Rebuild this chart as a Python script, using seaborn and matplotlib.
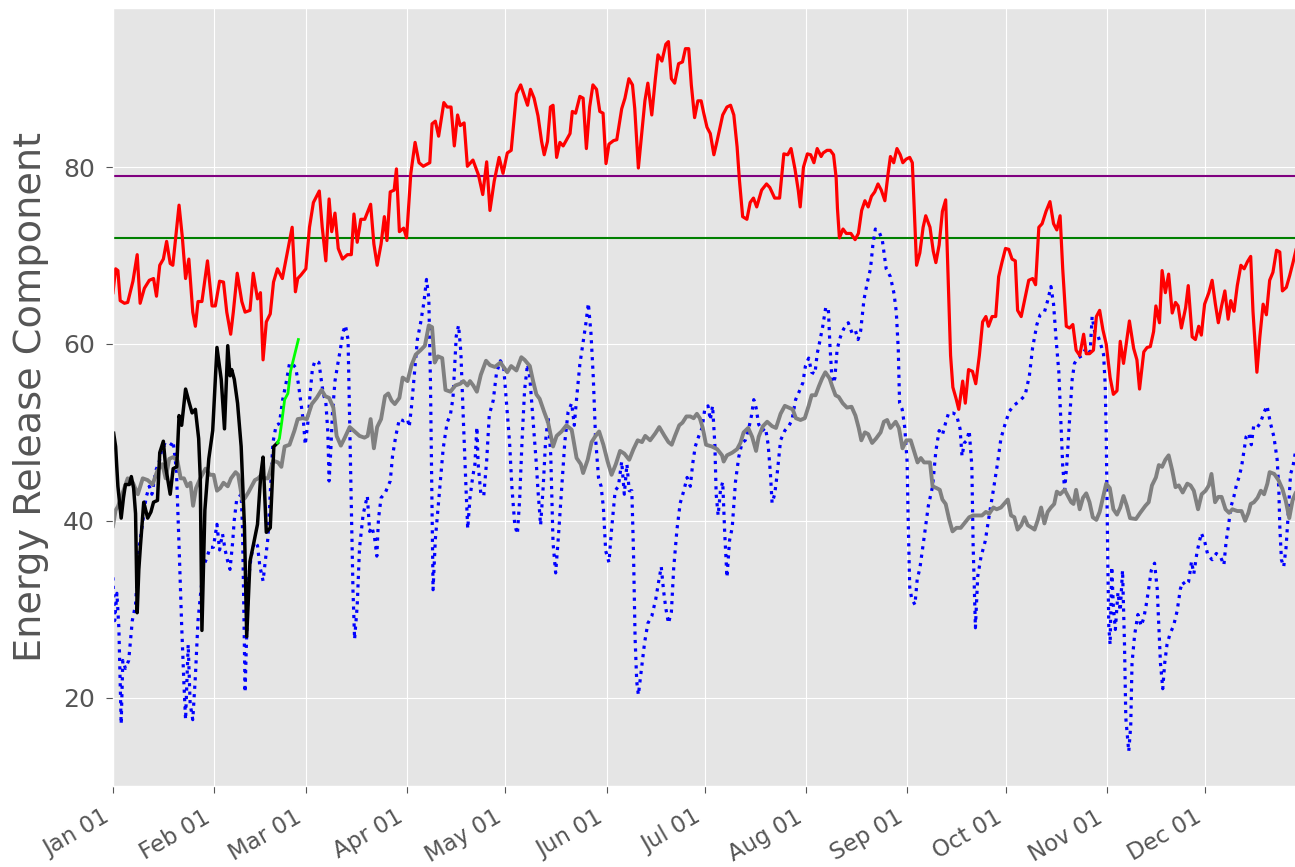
import numpy as np
import pandas as pd
import matplotlib
matplotlib.use('Agg')
import matplotlib.pyplot as plt
import matplotlib.dates as mdates
import seaborn as sns

plt.style.use('ggplot')

year_start = pd.Timestamp('2023-01-01')

# thresholds
purple_level = 79
green_level = 72

# historical max (red), day of year offset + ERC value
max_day = [0, 0.8, 1.5, 2.2, 3.5, 4.5, 6.1, 7.4, 8.3, 9.6, 11.1, 12.4, 13.3, 14.3, 15.4, 16.4, 17.5, 18.3, 20.2, 21.2,
           22.2, 23.2, 24.4, 25.2, 26.0, 27.2, 28.9, 30.3, 31.3, 32.6, 33.8, 34.8, 36.0, 36.8, 38.0, 39.4, 40.4, 41.9,
           42.9, 44.2, 45.1, 45.9, 46.9, 48.1, 49.1, 50.3, 51.8, 53.5, 54.8, 55.8, 56.5, 57.5, 59, 60.1, 61.3, 63.1,
           64.0, 65.1, 66.1, 66.9, 67.9, 68.9, 70.2, 71.7, 72.9, 73.7, 74.7, 75.8, 77.0, 78.8, 79.8, 80.8, 82.0, 83.0,
           83.8, 84.8, 86.0, 86.7, 87.6, 88.9, 89.8, 91.1, 92.4, 93.6, 94.9, 96.9, 97.6, 98.6, 99.6, 101.2, 102.2,
           103.4, 104.4, 105.4, 106.2, 107.4, 108.4, 110.1, 111.8, 113.1, 114.3, 115.3, 116.6, 118.1, 119.3, 120.6,
           121.8, 123.4, 124.7, 126.8, 127.7, 128.8, 130.0, 131.1, 131.9, 132.9, 133.8, 134.6, 135.7, 136.7, 137.7,
           139.8, 140.5, 141.5, 142.8, 143.8, 144.8, 145.8, 146.8, 147.9, 148.9, 149.9, 150.8, 151.7, 153.1, 154.1,
           155.6, 156.6, 157.8, 158.9, 159.6, 160.7, 161.6, 162.7, 163.6, 164.8, 165.9, 166.7, 167.9, 169.1, 169.9,
           170.8, 171.8, 173.0, 174.2, 175.1, 176.1, 176.9, 177.9, 178.9, 179.9, 180.7, 181.7, 182.7, 183.8, 184.8,
           186.5, 187.8, 188.9, 189.9, 190.9, 191.6, 192.6, 193.9, 194.9, 195.9, 196.9, 198.4, 199.9, 200.9, 202.4,
           203.9, 205.2, 206.4, 207.4, 208.6, 209.6, 210.2, 211.2, 212.4, 213.4, 214.4, 215.4, 216.6, 217.2, 218.4,
           219.4, 220.4, 221.2, 221.6, 222.2, 223.3, 224.3, 225.7, 227.0, 228.0, 229.0, 230.0, 231.0, 232.0, 233.0,
           234.0, 235.0, 236.1, 237.1, 237.8, 238.8, 239.8, 240.8, 241.6, 242.6, 243.7, 244.5, 245.8, 246.8, 247.8,
           248.6, 249.9, 250.9, 251.7, 252.7, 253.7, 254.7, 255.5, 256.2, 256.9, 257.9, 258.7, 259.9, 260.7, 261.7,
           262.9, 263.9, 265.0, 266.0, 267.0, 267.8, 268.9, 270.0, 270.9, 271.9, 273.0, 274.0, 275.0, 276.0, 276.7,
           277.8, 278.8, 280.1, 281.3, 282.2, 283.2, 284.2, 285.4, 286.6, 287.7, 288.7, 289.7, 290.5, 291.6, 292.6,
           293.6, 294.6, 295.7, 296.9, 297.7, 298.7, 299.9, 300.8, 301.8, 302.8, 303.8, 305.0, 306.0, 307.1, 308.1,
           309.1, 310.9, 312.2, 313.2, 314.0, 315.3, 316.3, 317.3, 318.3, 319.0, 320.1, 320.9, 321.9, 322.9, 324.0,
           325.0, 325.8, 326.8, 328.1, 328.9, 330.1, 331.1, 332.1, 332.9, 333.9, 335.2, 336.2, 337.2, 338.1, 339.1,
           340.1, 341.1, 341.9, 342.9, 343.9, 345.0, 346.0, 347.0, 348.0, 348.7, 349.9, 350.8, 351.8, 352.8, 353.8,
           354.8, 355.9, 356.9, 357.7, 358.9, 359.9, 361.0, 361.8, 363.0]
max_erc = [65.8, 68.5, 68.3, 64.9, 64.6, 64.7, 67.1, 70.1, 64.6, 66.3, 67.2, 67.4, 65.4, 68.9, 69.6, 71.6, 69.1, 68.9,
           75.7, 72.1, 67.4, 69.6, 63.6, 62.0, 64.8, 64.8, 69.4, 64.3, 64.3, 67.1, 67.0, 63.6, 61.1, 63.6, 68.0, 64.8,
           63.6, 63.8, 68.0, 65.1, 65.8, 58.2, 62.5, 63.4, 67.0, 68.5, 67.4, 70.7, 73.2, 65.9, 67.4, 67.8, 68.5, 73.2,
           76.0, 77.3, 73.2, 69.4, 76.4, 72.7, 74.8, 70.8, 69.6, 70.1, 70.1, 74.7, 71.5, 74.1, 74.1, 75.8, 71.3, 68.9,
           71.3, 74.4, 71.7, 77.2, 77.4, 79.8, 72.7, 73.1, 72.0, 79.3, 82.8, 80.5, 80.1, 80.5, 84.9, 85.2, 83.5, 87.3,
           86.8, 86.8, 82.4, 85.9, 84.7, 85.0, 80.1, 80.8, 79.1, 76.9, 80.6, 75.1, 78.4, 81.1, 79.3, 81.6, 81.9, 88.3,
           89.3, 87.0, 88.8, 87.8, 85.8, 82.9, 81.4, 82.9, 86.8, 87.0, 81.1, 82.8, 82.4, 83.8, 86.3, 86.1, 88.0, 87.8,
           82.1, 86.8, 89.3, 88.8, 86.3, 86.1, 80.4, 82.6, 83.0, 83.1, 86.6, 87.8, 90.0, 89.3, 86.6, 79.9, 83.3, 87.5,
           89.5, 85.9, 90.0, 92.7, 92.0, 93.9, 94.2, 90.0, 89.5, 91.7, 91.9, 93.4, 93.4, 89.3, 85.6, 87.5, 87.5, 86.1,
           84.5, 83.8, 81.4, 83.0, 85.9, 86.8, 87.0, 85.9, 82.3, 78.6, 74.4, 74.1, 76.0, 76.5, 75.5, 77.4, 78.1, 77.7,
           76.5, 76.5, 81.5, 81.4, 82.1, 79.8, 77.4, 75.5, 80.0, 81.5, 81.4, 80.5, 82.1, 81.2, 81.6, 81.9, 81.9, 81.4,
           78.8, 75.3, 72.0, 73.0, 72.5, 72.5, 71.8, 72.5, 75.1, 76.2, 75.5, 76.7, 77.2, 78.1, 77.4, 76.2, 79.3, 81.2,
           80.5, 82.1, 81.4, 80.5, 80.9, 81.1, 80.5, 68.9, 70.3, 73.2, 74.5, 73.2, 70.5, 69.2, 71.2, 75.0, 76.3, 66.7,
           58.7, 55.1, 53.8, 52.6, 55.8, 53.3, 57.1, 56.9, 55.5, 58.7, 62.5, 63.1, 62.0, 63.1, 63.1, 67.6, 69.2, 70.8,
           70.7, 69.6, 69.4, 63.8, 63.1, 64.9, 67.2, 67.4, 66.7, 73.2, 73.6, 75.0, 76.1, 73.6, 72.9, 74.5, 68.5, 62.0,
           61.8, 62.2, 59.3, 58.7, 61.1, 58.9, 58.9, 59.3, 63.1, 63.8, 61.6, 60.0, 56.2, 54.3, 54.7, 60.3, 57.8, 62.6,
           59.5, 58.2, 54.9, 59.1, 59.6, 59.7, 61.4, 64.3, 62.4, 68.3, 65.8, 67.9, 63.5, 64.7, 64.3, 61.8, 64.1, 66.6,
           60.8, 60.5, 62.0, 61.0, 64.5, 65.8, 67.2, 64.5, 62.4, 64.3, 66.0, 62.8, 64.9, 63.7, 66.6, 68.9, 68.5, 69.3,
           69.9, 63.7, 56.8, 60.8, 64.5, 63.3, 67.2, 68.1, 70.6, 70.4, 66.0, 66.4, 67.7, 69.3, 70.6, 71.5]

# historical average (gray)
avg_day = [0, 0.8, 1.5, 3.0, 4.5, 6.1, 7.6, 9.1, 10.6, 12.1, 13.6, 15.1, 16.1, 17.2, 18.4, 19.7, 20.7, 21.7, 22.7,
           23.7, 24.5, 25.4, 26.7, 28.3, 29.6, 30.8, 31.8, 32.8, 33.8, 35.1, 36.1, 37.5, 38.3, 39.6, 40.4, 41.4, 42.4,
           43.4, 44.4, 45.4, 46.4, 47.4, 49.0, 50.5, 51.5, 52.5, 54.0, 55.5, 56.5, 58.0, 59.3, 60.8, 62.3, 63.8, 64.9,
           66.1, 67.4, 68.4, 69.7, 70.9, 72.4, 73.9, 75.4, 76.9, 77.9, 78.8, 79.8, 80.8, 82.0, 83.2, 84.2, 85.2, 86.2,
           87.6, 88.6, 90.1, 91.3, 92.6, 94.1, 95.4, 96.6, 97.6, 98.4, 99.4, 100.7, 101.7, 103.2, 104.7, 106.2, 107.2,
           108.4, 109.2, 110.2, 111.3, 112.5, 114.1, 115.3, 116.8, 118.5, 120.6, 121.8, 123.4, 124.9, 125.9, 127.5,
           128.5, 129.5, 130.5, 131.9, 133.1, 134.6, 135.7, 137.2, 138.7, 140.3, 141.8, 143.1, 143.8, 145.2, 146.4,
           147.6, 148.7, 150.0, 151.3, 152.5, 153.8, 155.1, 156.4, 157.9, 159.2, 160.5, 161.8, 162.8, 164.3, 165.9,
           167.1, 168.7, 169.9, 170.9, 171.9, 173.2, 174.2, 175.4, 176.6, 177.6, 178.6, 179.5, 180.4, 181.4, 183.2,
           184.8, 186.3, 186.8, 187.8, 189.4, 190.9, 191.9, 192.9, 194.3, 195.5, 196.7, 197.5, 198.8, 200.1, 201.6,
           202.8, 204.2, 205.5, 206.7, 207.9, 208.9, 210.3, 211.6, 212.8, 213.7, 214.9, 215.9, 216.9, 217.9, 219.2,
           220.0, 221.0, 222.0, 223.2, 224.5, 225.9, 227.1, 228.1, 228.9, 230.0, 231.0, 232.2, 233.4, 234.8, 235.8,
           236.8, 237.8, 239.4, 240.4, 241.5, 242.7, 244.0, 245.0, 246.1, 247.1, 248.1, 249.9, 250.7, 251.9, 252.9,
           253.7, 254.7, 255.8, 256.8, 258.0, 259.3, 260.4, 261.9, 263.1, 264.4, 265.8, 267.0, 268.0, 269.3, 270.3,
           271.6, 273.0, 273.7, 274.7, 275.7, 276.7, 277.8, 278.8, 279.8, 281.1, 281.9, 282.9, 283.9, 284.9, 285.9,
           286.9, 287.9, 288.7, 289.7, 291.1, 292.1, 293.1, 293.8, 294.6, 295.7, 296.7, 297.7, 298.7, 299.7, 300.8,
           301.8, 302.8, 303.8, 304.9, 306.0, 307.1, 308.1, 309.1, 310.1, 311.1, 312.9, 314.2, 315.8, 316.8, 317.8,
           319.0, 319.9, 320.9, 321.9, 322.9, 324.0, 325.0, 326.0, 327.2, 328.6, 329.6, 330.6, 331.9, 333.0, 334.2,
           335.2, 336.0, 337.1, 338.1, 339.1, 340.3, 341.4, 342.4, 343.9, 345.2, 346.3, 347.3, 348.0, 349.0, 350.1,
           351.1, 352.1, 353.1, 353.8, 355.2, 356.5, 357.7, 358.7, 359.8, 360.8, 361.8, 363.0]
avg_erc = [39.4, 41.2, 41.6, 43.2, 44.8, 44.3, 43.0, 44.8, 44.6, 44.1, 45.7, 46.4, 44.8, 47.0, 47.2, 46.8, 44.8, 44.8,
           43.9, 44.3, 41.7, 43.7, 44.8, 45.9, 45.2, 45.2, 43.4, 43.7, 44.3, 43.9, 44.8, 45.5, 45.2, 42.3, 42.6, 43.2,
           43.9, 44.6, 44.8, 45.2, 44.8, 44.8, 46.8, 46.6, 46.1, 48.4, 48.6, 50.2, 51.5, 51.6, 51.5, 53.2, 53.9, 54.8,
           54.1, 53.9, 52.8, 49.6, 48.5, 49.4, 50.6, 50.1, 49.6, 49.4, 49.6, 51.5, 48.2, 50.6, 51.5, 54.1, 54.4, 53.6,
           53.2, 53.9, 56.2, 55.8, 57.6, 58.8, 59.3, 59.8, 62.1, 61.9, 57.9, 58.6, 58.4, 54.8, 54.6, 55.3, 55.5, 55.8,
           55.3, 55.8, 55.3, 54.6, 56.5, 58.1, 57.6, 57.4, 57.9, 56.8, 57.5, 57.0, 58.5, 58.2, 57.5, 55.8, 54.3, 53.8,
           52.3, 51.1, 48.4, 49.6, 50.1, 50.8, 50.3, 47.1, 46.4, 45.4, 46.9, 48.9, 49.6, 50.1, 48.6, 46.7, 45.2, 46.4,
           47.9, 47.6, 46.9, 48.1, 49.1, 48.9, 49.6, 49.1, 49.9, 50.6, 49.6, 48.9, 48.6, 49.6, 50.8, 51.1, 51.8, 51.8,
           51.6, 52.1, 51.6, 50.5, 48.6, 48.4, 48.1, 47.4, 46.7, 47.4, 47.7, 48.1, 48.8, 50.0, 50.5, 49.5, 47.9, 49.5,
           50.7, 51.2, 50.7, 50.5, 52.1, 53.0, 52.8, 52.6, 51.6, 51.4, 51.6, 53.0, 54.2, 54.2, 55.2, 56.1, 56.8, 56.1,
           55.2, 54.2, 54.0, 53.3, 52.8, 52.9, 51.9, 50.5, 49.1, 50.0, 49.8, 48.8, 49.3, 50.0, 51.2, 51.4, 50.5, 51.2,
           50.5, 48.2, 49.1, 49.1, 47.9, 46.6, 47.1, 46.6, 46.6, 43.9, 43.7, 43.5, 42.4, 41.9, 40.1, 38.8, 39.2, 39.2,
           39.7, 40.4, 40.6, 40.6, 40.6, 41.0, 40.8, 41.5, 41.3, 41.5, 42.1, 42.4, 40.6, 40.4, 39.0, 39.5, 40.4, 39.5,
           39.2, 39.0, 40.1, 41.5, 39.7, 41.0, 41.5, 41.9, 43.3, 43.0, 43.5, 42.8, 42.1, 41.9, 43.5, 41.3, 42.6, 43.1,
           42.1, 40.4, 40.1, 41.0, 42.6, 44.2, 43.7, 41.3, 40.7, 41.5, 42.8, 41.7, 40.3, 40.2, 40.9, 41.7, 42.1, 44.0,
           44.9, 46.3, 46.1, 46.9, 47.4, 45.7, 43.8, 44.0, 43.2, 44.2, 44.0, 43.4, 41.3, 43.0, 43.4, 44.0, 45.3, 42.1,
           42.7, 42.7, 41.3, 40.9, 41.3, 41.1, 41.1, 40.0, 40.9, 41.9, 42.1, 42.6, 43.4, 43.0, 44.2, 45.5, 45.3, 44.6,
           43.6, 42.3, 40.3, 42.3, 43.2, 43.5]

# historical min (blue dotted)
min_day = [0, 0.5, 1.2, 1.8, 2.5, 3.0, 3.8, 4.8, 5.9, 6.9, 7.9, 9.1, 10.1, 11.1, 11.9, 13.1, 14.1, 15.1, 16.1, 17.4,
           18.4, 19.4, 20.2, 21.0, 21.7, 22.2, 23.0, 23.6, 24.4, 25.2, 26.0, 26.7, 27.7, 28.7, 29.7, 30.7, 31.8, 32.6,
           33.5, 34.3, 35.1, 35.8, 36.6, 37.1, 37.8, 39.2, 39.6, 40.0, 40.4, 40.8, 41.4, 42.2, 43.2, 44.2, 44.9, 45.9,
           46.7, 47.4, 48.2, 48.9, 49.9, 50.9, 51.9, 52.9, 54.0, 54.8, 55.9, 56.7, 57.5, 58.3, 58.8, 59.6, 60.3, 61.0,
           61.8, 63.0, 63.6, 64.3, 65.1, 65.7, 66.1, 66.6, 67.1, 67.9, 68.7, 69.6, 70.4, 71.1, 71.9, 72.4, 72.9, 73.4,
           73.9, 74.7, 75.4, 76.5, 77.8, 78.5, 79.2, 80.0, 80.7, 81.2, 82.0, 83.2, 84.8, 85.5, 86.5, 87.6, 88.9, 90.1,
           90.6, 91.3, 92.1, 93.1, 94.1, 95.1, 95.9, 96.6, 97.1, 97.6, 97.9, 98.6, 99.7, 101.0, 102.2, 103.2, 104.0,
           105.0, 105.7, 106.4, 107.2, 108.0, 108.5, 109.2, 110.0, 110.7, 111.3, 111.7, 112.5, 113.4, 114.3, 115.1,
           116.3, 117.3, 118.5, 119.5, 120.6, 121.3, 122.0, 122.9, 123.7, 124.4, 125.1, 125.9, 126.8, 127.5, 128.5,
           129.5, 130.0, 130.8, 131.6, 132.3, 133.1, 133.9, 134.6, 135.4, 136.2, 137.2, 138.2, 139.2, 140.3, 141.1,
           141.8, 142.8, 143.8, 144.6, 145.4, 146.2, 146.9, 147.6, 148.5, 149.3, 150.0, 150.7, 151.7, 152.5, 153.6,
           154.6, 155.6, 156.4, 157.2, 157.9, 158.7, 159.2, 159.7, 160.2, 160.7, 161.5, 162.6, 163.6, 164.8, 166.0,
           166.9, 167.7, 168.4, 169.1, 169.9, 170.8, 171.5, 172.5, 173.5, 174.6, 175.6, 176.6, 177.3, 178.1, 179.2,
           180.2, 181.0, 182.0, 182.7, 183.4, 184.1, 184.5, 185.1, 185.8, 186.5, 187.1, 187.8, 188.6, 189.4, 190.4,
           191.4, 192.4, 193.4, 194.5, 195.3, 196.0, 196.7, 197.5, 198.6, 199.6, 200.4, 201.1, 201.6, 202.4, 203.1,
           204.2, 205.5, 206.7, 207.7, 208.8, 210.0, 211.0, 211.8, 212.8, 213.7, 214.7, 215.4, 216.2, 217.1, 218.0,
           218.8, 219.3, 220.0, 220.8, 221.5, 222.5, 223.5, 224.9, 226.1, 227.1, 227.9, 228.7, 229.7, 230.7, 231.7,
           232.4, 233.2, 234.3, 235.3, 236.5, 237.8, 238.9, 239.6, 240.2, 240.6, 241.4, 242.2, 242.9, 243.2, 243.7,
           244.3, 245.3, 246.0, 246.8, 248.1, 249.4, 250.7, 251.7, 252.7, 253.7, 254.7, 255.6, 256.8, 258.0, 259.1,
           259.7, 260.4, 261.2, 261.9, 262.7, 263.1, 263.8, 264.5, 265.5, 266.8, 268.1, 269.3, 270.6, 271.6, 273.0,
           274.2, 275.7, 277.2, 279.0, 280.3, 281.3, 282.6, 283.6, 284.9, 285.9, 286.9, 287.7, 288.5, 289.3, 290.0,
           290.5, 291.1, 291.8, 292.6, 293.4, 294.1, 295.1, 296.5, 297.7, 298.9, 299.5, 300.3, 301.3, 302.1, 303.0,
           303.5, 303.8, 304.0, 304.3, 304.6, 305.0, 305.5, 306.0, 306.6, 307.4, 308.1, 308.8, 309.4, 309.8, 310.7,
           311.3, 311.7, 312.5, 313.5, 314.5, 315.3, 316.0, 316.8, 317.6, 318.6, 319.4, 319.9, 320.4, 321.1, 321.7,
           322.4, 323.4, 324.4, 325.5, 326.5, 327.2, 328.0, 329.0, 329.9, 330.6, 331.6, 332.9, 333.9, 334.9, 336.2,
           337.5, 338.8, 339.8, 340.5, 341.2, 341.9, 342.9, 343.6, 344.4, 345.2, 345.9, 346.6, 347.4, 348.2, 348.9,
           349.9, 351.0, 352.0, 353.0, 354.0, 355.1, 356.1, 356.6, 356.9, 357.4, 358.1, 358.8, 359.4, 360.2, 360.9,
           361.8, 363.0]
min_erc = [33.6, 28.7, 31.8, 27.8, 17.0, 24.2, 23.3, 24.2, 28.7, 30.5, 36.7, 39.9, 42.6, 43.9, 43.0, 45.7, 46.6, 48.4,
           48.6, 48.4, 49.0, 45.7, 37.2, 28.2, 21.5, 17.5, 26.0, 19.3, 17.5, 22.4, 28.7, 31.4, 34.9, 35.8, 37.0, 37.0,
           39.6, 36.7, 38.5, 36.7, 35.4, 34.5, 37.6, 40.1, 42.3, 43.0, 39.4, 30.5, 20.6, 26.0, 33.2, 35.8, 37.6, 37.2,
           34.9, 33.2, 35.8, 38.1, 43.9, 48.8, 50.8, 51.0, 53.7, 55.5, 57.8, 57.8, 57.3, 55.5, 53.3, 51.0, 48.6, 51.1,
           54.4, 57.2, 58.1, 57.9, 56.2, 54.4, 53.4, 50.1, 44.5, 47.8, 52.0, 55.8, 57.6, 59.5, 61.4, 62.1, 60.5, 51.1,
           41.6, 32.2, 26.6, 30.4, 36.9, 40.7, 42.8, 38.8, 39.3, 38.1, 36.0, 40.2, 42.6, 43.1, 44.5, 47.3, 49.6, 51.5,
           51.3, 51.5, 50.6, 52.9, 56.2, 60.5, 62.4, 64.7, 67.3, 65.2, 55.8, 41.6, 32.2, 37.9, 42.6, 48.2, 51.1, 52.0,
           53.9, 60.9, 62.1, 59.1, 51.1, 43.5, 39.1, 42.6, 44.9, 46.4, 50.6, 46.4, 43.1, 42.8, 46.8, 52.0, 53.6, 56.7,
           58.1, 57.4, 52.3, 48.9, 43.9, 39.5, 38.5, 42.5, 48.9, 54.8, 57.7, 56.2, 51.3, 46.4, 43.4, 39.5, 43.9, 48.9,
           51.8, 47.4, 37.5, 34.1, 38.0, 43.4, 48.9, 52.3, 53.3, 50.8, 53.8, 57.7, 60.2, 62.2, 64.6, 61.2, 56.3, 49.4,
           44.9, 43.9, 41.5, 36.6, 35.3, 39.0, 43.4, 43.9, 46.7, 43.0, 46.4, 43.4, 43.4, 36.6, 26.7, 21.8, 20.3, 22.8,
           26.2, 28.4, 29.2, 31.1, 33.1, 34.8, 32.1, 30.1, 28.4, 29.7, 34.6, 39.0, 42.0, 43.4, 44.9, 43.9, 46.4, 48.4,
           49.6, 50.5, 52.6, 53.0, 51.4, 53.0, 48.6, 43.0, 40.6, 43.4, 44.4, 38.7, 33.6, 37.8, 39.2, 44.4, 47.2, 48.8,
           49.1, 50.5, 51.9, 53.7, 52.8, 50.9, 50.2, 50.5, 48.6, 45.3, 42.0, 43.0, 45.1, 49.1, 50.2, 50.7, 51.4, 53.7,
           54.7, 55.6, 57.5, 58.4, 56.8, 56.6, 58.9, 60.3, 62.0, 64.1, 64.1, 59.8, 55.6, 56.1, 59.4, 60.8, 61.7, 62.4,
           61.2, 61.5, 60.5, 61.5, 65.0, 66.9, 68.5, 71.1, 73.0, 72.7, 71.8, 68.5, 67.6, 65.7, 63.6, 59.4, 53.3, 52.6,
           50.5, 46.7, 40.6, 32.5, 31.2, 30.5, 33.4, 34.6, 38.1, 41.7, 43.9, 47.9, 50.2, 49.7, 51.1, 52.2, 52.2, 52.0,
           50.4, 47.3, 48.8, 49.1, 50.2, 46.2, 37.2, 27.9, 33.7, 35.9, 37.7, 40.8, 43.5, 46.6, 49.3, 51.1, 52.4, 53.1,
           53.5, 54.2, 56.4, 59.6, 62.2, 63.3, 63.6, 64.9, 66.5, 64.5, 60.4, 56.9, 50.6, 46.2, 43.5, 46.6, 51.5, 56.0,
           57.8, 58.4, 58.7, 59.6, 59.1, 63.1, 61.3, 60.9, 60.0, 58.8, 55.3, 50.0, 43.9, 35.0, 28.0, 26.0, 34.8, 30.2,
           27.7, 31.9, 29.8, 34.4, 26.0, 17.7, 13.9, 16.8, 23.9, 27.1, 29.4, 28.1, 29.0, 30.4, 32.3, 34.4, 35.2, 32.3,
           28.1, 23.9, 21.0, 23.9, 26.0, 27.3, 28.1, 29.8, 32.3, 33.1, 32.7, 33.1, 35.4, 34.0, 36.5, 38.6, 37.7, 36.1,
           35.6, 36.3, 35.9, 35.0, 37.7, 39.4, 41.5, 42.8, 44.0, 44.9, 46.1, 47.8, 49.5, 49.9, 48.6, 50.7, 50.5, 51.1,
           52.2, 53.0, 51.1, 49.5, 46.9, 43.6, 39.4, 35.6, 34.8, 36.9, 40.3, 45.3, 46.1, 48.0, 50.5]

# current year observed (black)
obs_day = [0.2, 0.8, 1.5, 2.5, 3.2, 3.8, 5.0, 5.6, 6.3, 6.9, 7.4, 7.9, 8.4, 9.4, 10.6, 11.6, 12.4, 13.6, 14.3, 15.4,
           16.1, 17.5, 18.4, 19.5, 20.2, 21.0, 22.2, 23.2, 24.2, 25.2, 26.2, 26.7, 27.2, 28.1, 29.3, 30.5, 31.8, 33.1,
           34.1, 35.1, 35.8, 36.3, 37.1, 38.1, 39.2, 40.2, 40.9, 41.9, 42.9, 44.2, 45.2, 45.9, 46.9, 48.1, 49.2, 50.3]
obs_erc = [49.9, 48.4, 43.9, 40.3, 42.6, 44.1, 44.1, 45.0, 43.7, 40.8, 29.6, 34.5, 37.2, 42.1, 40.3, 41.0, 42.1, 42.3,
           47.7, 49.0, 46.1, 43.0, 45.9, 46.1, 51.9, 50.8, 54.9, 53.5, 52.2, 52.6, 49.3, 44.8, 27.6, 41.2, 47.0, 50.2,
           59.6, 56.0, 50.4, 59.8, 56.4, 57.1, 56.0, 53.3, 48.4, 39.4, 26.9, 35.4, 37.2, 39.6, 45.2, 47.2, 38.7, 39.2,
           48.4, 48.8]

# forecast (lime)
fc_day = [50.3, 50.9, 51.6, 52.5, 53.5, 54.3, 55.5, 56.7]
fc_erc = [48.8, 49.3, 51.1, 53.7, 54.4, 56.9, 58.7, 60.5]


def frame(days, vals):
    return pd.DataFrame({'date': year_start + pd.to_timedelta(np.array(days), unit='D'),
                         'erc': vals})


fig = plt.figure(figsize=(12.95, 8.67), dpi=100)
ax = fig.add_axes([113 / 1295, 81 / 867, 1190 / 1295, 778 / 867])

ax.axhline(purple_level, color='purple', linewidth=1.5)
ax.axhline(green_level, color='green', linewidth=1.5)

sns.lineplot(data=frame(min_day, min_erc), x='date', y='erc', ax=ax, color='blue',
             linestyle=':', linewidth=2.3)
sns.lineplot(data=frame(avg_day, avg_erc), x='date', y='erc', ax=ax, color='gray', linewidth=2.8)
sns.lineplot(data=frame(max_day, max_erc), x='date', y='erc', ax=ax, color='red', linewidth=2.3)
sns.lineplot(data=frame(obs_day, obs_erc), x='date', y='erc', ax=ax, color='black', linewidth=2.5)
sns.lineplot(data=frame(fc_day, fc_erc), x='date', y='erc', ax=ax, color='lime', linewidth=2.0)

ax.set_xlim(year_start, year_start + pd.Timedelta(days=364))
ax.set_ylim(10, 98)
ax.set_yticks([20, 40, 60, 80])
ax.xaxis.set_major_locator(mdates.MonthLocator())
ax.xaxis.set_major_formatter(mdates.DateFormatter('%b %d'))
plt.setp(ax.get_xticklabels(), rotation=30, ha='right')
ax.tick_params(axis='y', labelsize=18, length=5, pad=8)
ax.tick_params(axis='x', labelsize=16.5, length=5, pad=9)
ax.set_xlabel('')
ax.set_ylabel('Energy Release Component', fontsize=27.5, color='#555555')
ax.yaxis.set_label_coords(-0.054, 0.5)

fig.savefig('out.png', dpi=100)
